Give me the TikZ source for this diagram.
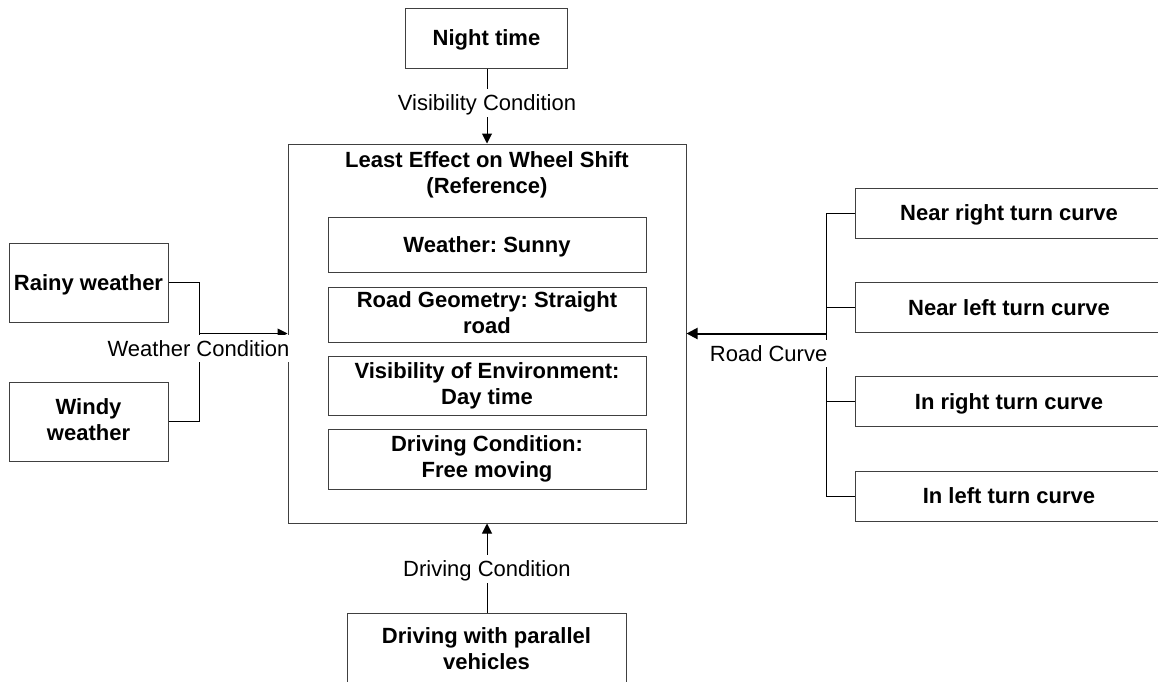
\documentclass[tikz,border=0pt]{standalone}
\usepackage{fontspec}
\setmainfont{Liberation Sans}
\usetikzlibrary{arrows.meta}
\frenchspacing
\tikzset{
  struts/.style={execute at begin node={\rule{0pt}{19.9pt}}, execute at end node={\rule[-4.66pt]{0pt}{4.66pt}}},
  box/.style={draw=black!75, line width=1pt, fill=white, inner sep=0pt, align=center, struts, font=\fontsize{22}{26}\selectfont\bfseries},
  ttl/.style={inner sep=0pt, align=center, struts, font=\fontsize{22}{26}\selectfont\bfseries},
  lbl/.style={fill=white, inner sep=1.5pt, struts, font=\fontsize{22}{26}\selectfont},
  conn/.style={draw=black, line width=1pt},
  arr/.style={conn, -{Triangle[length=10pt,width=10pt]}},
}
\begin{document}
\begin{tikzpicture}[x=1pt,y=-1pt]
\clip (0,0) rectangle (1158,681);
\fill[white] (0,0) rectangle (1158,681);
% main box
\node[draw=black!75, line width=1pt, fill=white, minimum width=398pt, minimum height=379pt] (main) at (487,333.5) {};
\node[ttl] (title) at (487,175) {Least Effect on Wheel Shift\\(Reference)};
\node[box, minimum width=318pt, minimum height=55pt] (sunny) at (487,244.5) {Weather: Sunny};
\node[box, minimum width=318pt, minimum height=55pt] (roadg) at (487,314.5) {Road Geometry: Straight\\road};
\node[box, minimum width=318pt, minimum height=59pt] (visib) at (487,385.5) {Visibility of Environment:\\Day time};
\node[box, minimum width=318pt, minimum height=60pt] (drvc) at (487,459) {Driving Condition:\\Free moving};
% top
\node[box, minimum width=162pt, minimum height=60pt] (night) at (486.5,38) {Night time};
% left
\node[box, minimum width=159pt, minimum height=79pt] (rainy) at (88.5,282.5) {Rainy weather};
\node[box, minimum width=159pt, minimum height=79pt] (windy) at (88.5,421.5) {Windy\\weather};
% right
\node[box, minimum width=308pt, minimum height=50pt] (nr) at (1009,213) {Near right turn curve};
\node[box, minimum width=308pt, minimum height=50pt] (nl) at (1009,307.5) {Near left turn curve};
\node[box, minimum width=308pt, minimum height=50pt] (ir) at (1009,401.5) {In right turn curve};
\node[box, minimum width=308pt, minimum height=50pt] (il) at (1009,496) {In left turn curve};
% bottom
\node[box, minimum width=279pt, minimum height=76pt] (par) at (486.5,651) {Driving with parallel\\vehicles};
% connectors top
\draw[arr] (night.south -| 487,0) -- (main.north -| 487,0);
\node[lbl] (vlab) at (487,103) {Visibility Condition};
% connectors bottom
\draw[arr] (par.north -| 487,0) -- (main.south -| 487,0);
\node[lbl] (dlab) at (487,569) {Driving Condition};
% left connectors
\coordinate (wj) at (199,333.5);
\draw[conn] (rainy.east) -| (wj);
\draw[conn] (windy.east) -| (wj);
\draw[arr] (wj) -- (main.west);
\node[lbl] (wlab) at (198.5,348.5) {Weather Condition};
% right connectors
\coordinate (rj) at (826,333.5);
\draw[conn] (nr.west) -| (rj);
\draw[conn] (nl.west) -- (nl.west -| rj);
\draw[conn] (ir.west) -- (ir.west -| rj);
\draw[conn] (il.west) -| (rj);
\draw[conn, line width=2pt, -{Triangle[length=11pt,width=11pt]}] (rj) -- (main.east);
\node[lbl, anchor=east] (rlab) at (829,353.5) {Road Curve};
\end{tikzpicture}
\end{document}
